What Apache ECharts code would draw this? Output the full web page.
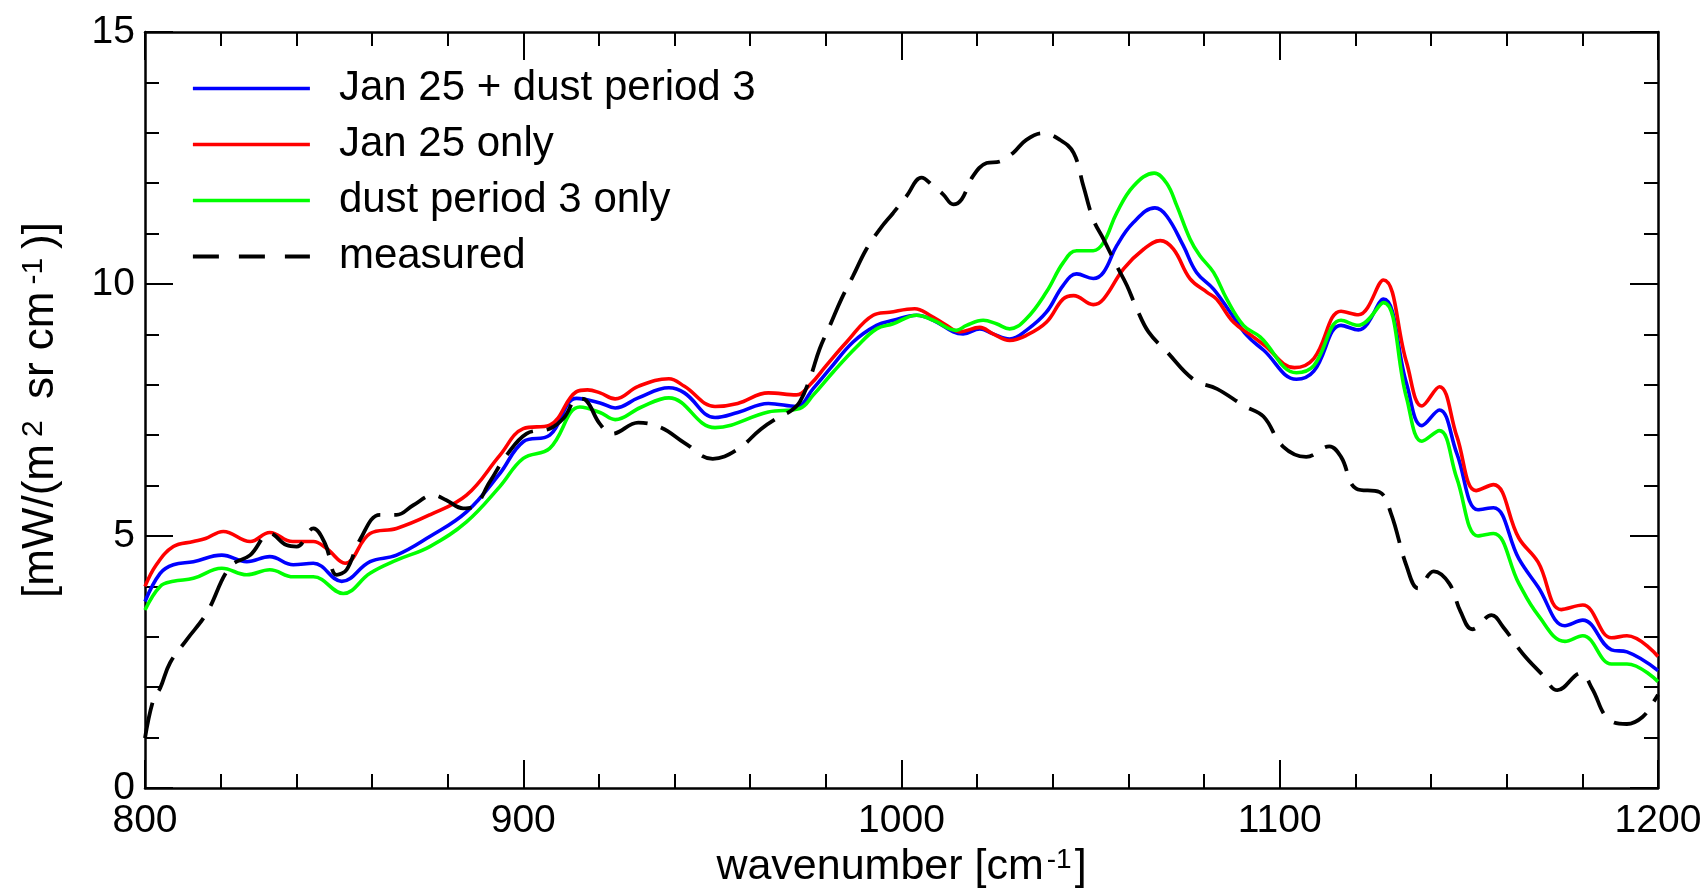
<!DOCTYPE html>
<html>
<head>
<meta charset="utf-8">
<script src="https://cdn.jsdelivr.net/npm/echarts@6/dist/echarts.min.js"></script>
<style>
html,body{margin:0;padding:0;background:#fff;}
#c{width:1708px;height:895px;}
</style>
</head>
<body>
<div id="c"></div>
<script>
// ---- data (wavenumber [cm-1], radiance [mW/(m2 sr cm-1)]) ----
const seriesNames = ['Jan 25 + dust period 3', 'Jan 25 only', 'dust period 3 only', 'measured'];
const xTicks = [800, 900, 1000, 1100, 1200];
const yTicks = [0, 5, 10, 15];

const jan25Dust = [[800,3.7],[804,4.26],[807.5,4.43],[812.8,4.49],[820.3,4.62],[826.9,4.49],[833,4.59],[839.2,4.43],[844.5,4.46],[852,4.1],[859.5,4.49],[866.5,4.62],[875.3,4.99],[885,5.48],[893.8,6.24],[900,6.87],[907,7.0],[914.1,7.73],[920.3,7.64],[924.3,7.54],[930.4,7.74],[938.5,7.94],[942.6,7.84],[950.7,7.35],[956.7,7.45],[964.8,7.63],[972.2,7.57],[976.7,7.93],[981.1,8.32],[987.2,8.85],[993.4,9.18],[997.8,9.28],[1004,9.38],[1008.4,9.28],[1013.7,9.05],[1016.3,9.01],[1020.7,9.11],[1024.2,9.01],[1028.6,8.91],[1033,9.08],[1038.3,9.44],[1042.7,9.97],[1046.3,10.2],[1050.7,10.11],[1053.4,10.23],[1056.9,10.76],[1061.3,11.22],[1067,11.51],[1070.1,11.35],[1074.5,10.76],[1078,10.23],[1082.5,9.9],[1086.9,9.44],[1091.3,8.98],[1095.7,8.69],[1104.4,8.11],[1109,8.27],[1116.2,9.18],[1120.8,9.09],[1127.4,9.7],[1133.5,8.03],[1137.6,7.19],[1142.2,7.5],[1146.8,6.64],[1152.4,5.52],[1156.5,5.56],[1163.2,4.55],[1168.3,3.99],[1175.4,3.22],[1180.1,3.33],[1187.7,2.74],[1191.8,2.7],[1200,2.33]];

const jan25Only = [[800,4.0],[803,4.43],[807.5,4.79],[812.8,4.89],[816,4.95],[820.7,5.09],[827.8,4.89],[833,5.07],[839,4.89],[844.5,4.89],[848,4.75],[852.9,4.46],[859.5,5.05],[866.5,5.15],[875.3,5.42],[885,5.81],[893.8,6.6],[900,7.13],[907,7.2],[914,7.86],[917,7.9],[920.3,7.84],[924.3,7.72],[930.4,7.97],[938.5,8.12],[942.6,7.97],[950.7,7.57],[956.7,7.63],[964.8,7.84],[972.2,7.8],[975.8,8.0],[980.2,8.39],[985.5,8.85],[992.5,9.38],[996.9,9.44],[1003.5,9.51],[1007.5,9.38],[1011.9,9.18],[1015.4,9.05],[1020.7,9.14],[1024.2,9.01],[1028.6,8.88],[1033,8.98],[1038.3,9.24],[1042.7,9.7],[1045.5,9.77],[1050.7,9.59],[1053.4,9.7],[1058.7,10.3],[1064,10.69],[1068.4,10.86],[1071.9,10.69],[1076.3,10.1],[1080.7,9.84],[1083.3,9.7],[1087.8,9.24],[1093,8.95],[1095.7,8.8],[1103.9,8.34],[1109,8.52],[1116.2,9.46],[1120.8,9.39],[1127.4,10.08],[1133.5,8.45],[1137.6,7.58],[1142.2,7.96],[1146.8,6.98],[1151.9,5.9],[1156.5,6.02],[1163.2,4.96],[1168.3,4.48],[1174.4,3.54],[1180.1,3.63],[1187.7,2.98],[1191.8,3.02],[1200,2.61]];

const dustOnly = [[800,3.53],[804,4.0],[807.5,4.1],[812.8,4.16],[820.3,4.36],[826.9,4.23],[833,4.33],[839.2,4.19],[844.5,4.19],[852.4,3.86],[859.5,4.26],[866.5,4.52],[875.3,4.79],[885,5.28],[893.8,5.98],[900,6.54],[907,6.74],[915,7.56],[920.3,7.45],[924.3,7.31],[931,7.55],[938.5,7.74],[950.7,7.15],[964.8,7.46],[973.1,7.53],[976.7,7.8],[982,8.26],[988.1,8.75],[993.4,9.11],[997.8,9.21],[1004,9.38],[1008.4,9.28],[1014.5,9.08],[1017.2,9.18],[1021.6,9.28],[1025.1,9.21],[1028.6,9.11],[1033,9.31],[1038.3,9.84],[1042.8,10.43],[1046.3,10.66],[1050.7,10.66],[1053.4,10.82],[1056.9,11.41],[1061.3,11.94],[1066.8,12.2],[1070.1,12.0],[1072.8,11.55],[1076.3,10.89],[1078.9,10.56],[1082.5,10.23],[1086,9.7],[1090.4,9.18],[1094.8,8.95],[1104.4,8.24],[1109,8.38],[1116.2,9.28],[1120.8,9.18],[1127.4,9.63],[1133.5,7.75],[1137.6,6.88],[1142.2,7.09],[1146.8,6.15],[1152.4,5.0],[1156.5,5.05],[1163.2,4.06],[1168.3,3.43],[1175.4,2.91],[1180.1,3.02],[1187.7,2.46],[1191.8,2.46],[1200,2.11]];

const measured = [[800,0.99],[802.2,1.75],[804,1.98],[806.6,2.48],[811,2.94],[816.3,3.47],[822.5,4.39],[827.8,4.62],[833,5.05],[837.4,4.82],[840.1,4.79],[844.5,5.15],[847.6,4.85],[850.7,4.23],[853.3,4.33],[856.8,4.92],[862.1,5.42],[866.5,5.42],[870.9,5.61],[876.2,5.81],[879.7,5.71],[884.1,5.55],[886.8,5.58],[891.2,6.08],[895.6,6.6],[900.9,7.03],[907,7.13],[910.6,7.33],[914.5,7.73],[916.6,7.69],[920.2,7.23],[923.5,7.03],[930.4,7.25],[936.5,7.15],[942.6,6.85],[950.1,6.53],[956.7,6.72],[962.8,7.12],[967.8,7.37],[970.5,7.47],[973.1,7.66],[975.8,8.13],[978.4,8.72],[981.1,9.18],[984.1,9.7],[987.2,10.16],[990.7,10.69],[994.3,11.09],[997.8,11.41],[1001.3,11.74],[1005.3,12.11],[1008.4,11.94],[1011,11.78],[1013.7,11.58],[1015.9,11.68],[1018.9,12.14],[1022.5,12.4],[1026,12.43],[1029.5,12.6],[1033,12.86],[1037.4,12.99],[1041.9,12.86],[1045.5,12.6],[1048.1,11.94],[1050.7,11.28],[1053.4,10.89],[1056.9,10.36],[1059.6,9.97],[1062.2,9.51],[1065.3,9.05],[1070.1,8.66],[1077.3,8.1],[1083.4,7.92],[1090.6,7.58],[1095.7,7.37],[1100.8,6.78],[1107,6.57],[1113.1,6.78],[1116.2,6.57],[1120.2,5.94],[1126.4,5.87],[1129.4,5.45],[1133.5,4.41],[1136.6,3.96],[1140.7,4.3],[1144.8,4.06],[1147.8,3.5],[1150.9,3.15],[1156,3.43],[1159.1,3.19],[1164.2,2.67],[1169.4,2.25],[1173.4,1.94],[1179.6,2.28],[1182.6,1.97],[1186.7,1.38],[1191.8,1.27],[1195.9,1.41],[1199,1.73],[1200,1.85]];

// ---- chart ----
const FONT = '"Liberation Sans", Arial, sans-serif';
const axisLine = {show: true, onZero: false, lineStyle: {color: '#000', width: 2.5}};
const tick = {show: true, inside: true, length: 28, lineStyle: {color: '#000', width: 2}};
const minor = {show: true, splitNumber: 5, length: 14, lineStyle: {color: '#000', width: 2}};
const yTitleRich = {
  n: {fontFamily: FONT, fontSize: 44, color: '#000'},
  s: {fontFamily: FONT, fontSize: 30, color: '#000', verticalAlign: 'top', padding: [0, 9, 0, 7]}
};
const xTitleRich = {
  n: {fontFamily: FONT, fontSize: 43, color: '#000'},
  s: {fontFamily: FONT, fontSize: 28, color: '#000', verticalAlign: 'top', padding: [0, 3, 0, 3]}
};

const chart = echarts.init(document.getElementById('c'), null, {renderer: 'canvas'});
const colors = ['#0000ff', '#ff0000', '#00ff00', '#000000'];
const widths = [3.6, 3.6, 3.6, 3.8];
const datasets = [jan25Dust, jan25Only, dustOnly, measured];

chart.setOption({
  animation: false,
  backgroundColor: '#fff',
  grid: {left: 145, top: 32, right: 50, bottom: 107, containLabel: false},
  legend: {
    orient: 'vertical', left: 186, top: 62, itemWidth: 117, itemHeight: 14, itemGap: 13,
    itemStyle: {opacity: 0},
    textStyle: {fontFamily: FONT, fontSize: 42, color: '#000', padding: [0, 0, 0, 24], lineHeight: 43},
    data: seriesNames.map((name, i) => ({
      name, lineStyle: {width: widths[i], color: colors[i], type: i === 3 ? [26, 20] : 'solid'}
    }))
  },
  xAxis: [{
    type: 'value', min: xTicks[0], max: xTicks[xTicks.length - 1], interval: 100, position: 'bottom',
    axisLine, axisTick: tick, minorTick: minor, splitLine: {show: false},
    axisLabel: {fontFamily: FONT, fontSize: 39, color: '#000', margin: 14,
      formatter: v => xTicks.includes(v) ? String(v) : ''},
    name: '{n|wavenumber [cm}{s|-1}{n|]}', nameLocation: 'middle', nameGap: 58,
    nameTextStyle: {fontFamily: FONT, fontSize: 43, color: '#000', rich: xTitleRich}
  }, {
    type: 'value', min: xTicks[0], max: xTicks[xTicks.length - 1], interval: 100, position: 'top',
    axisLine, axisTick: tick, minorTick: minor, splitLine: {show: false}, axisLabel: {show: false}
  }],
  yAxis: [{
    type: 'value', min: yTicks[0], max: yTicks[yTicks.length - 1], interval: 5, position: 'left',
    axisLine, axisTick: tick, minorTick: minor, splitLine: {show: false},
    axisLabel: {fontFamily: FONT, fontSize: 39, color: '#000', margin: 10},
    name: '{n|[mW/(m}{s|2}{n| sr cm}{s|-1}{n|)]}', nameLocation: 'middle', nameRotate: 90, nameGap: 82,
    nameTextStyle: {fontFamily: FONT, fontSize: 44, color: '#000', rich: yTitleRich}
  }, {
    type: 'value', min: yTicks[0], max: yTicks[yTicks.length - 1], interval: 5, position: 'right',
    axisLine, axisTick: tick, minorTick: minor, splitLine: {show: false}, axisLabel: {show: false}
  }],
  series: seriesNames.map((name, i) => ({
    name, type: 'line', data: datasets[i], xAxisIndex: 0, yAxisIndex: 0,
    smooth: 0.4, symbol: 'none', showSymbol: false,
    color: colors[i],
    lineStyle: {color: colors[i], width: widths[i], type: i === 3 ? [36, 14] : 'solid'},
    z: 2 + i
  }))
});
</script>
</body>
</html>
